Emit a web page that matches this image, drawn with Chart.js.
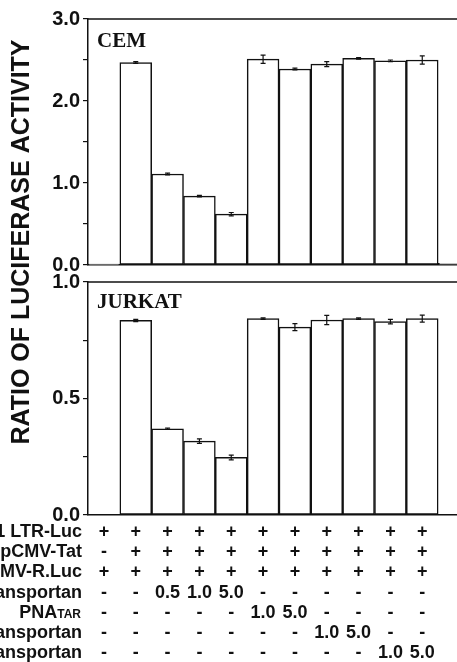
<!DOCTYPE html>
<html>
<head>
<meta charset="utf-8">
<script src="https://cdn.jsdelivr.net/npm/chart.js@4.4.1/dist/chart.umd.min.js"></script>
<style>
  html, body { margin: 0; padding: 0; background: #fff; overflow: hidden; }
  #wrap { position: relative; width: 457px; height: 662px; overflow: hidden; }
  canvas { position: absolute; left: 0; top: 0; }
</style>
</head>
<body>
<div id="wrap">
  <canvas id="jurkat" width="470" height="662" style="width:470px;height:662px"></canvas>
  <canvas id="cem" width="470" height="280" style="width:470px;height:280px"></canvas>
</div>
<script>
// conditions 1..11 plus the cut-off slot on the right
const categories = ['1', '2', '3', '4', '5', '6', '7', '8', '9', '10', '11', ''];

const cemValues = [0.01, 2.47, 1.11, 0.84, 0.62, 2.51, 2.39, 2.45, 2.52, 2.49, 2.50, 0.02];
const cemErrors = [0, 0.01, 0.01, 0.01, 0.02, 0.05, 0.01, 0.03, 0.01, 0.01, 0.05, 0];

const jurkatValues = [0, 0.835, 0.37, 0.317, 0.247, 0.843, 0.806, 0.837, 0.843, 0.83, 0.843, 0];
const jurkatErrors = [0, 0.005, 0.003, 0.01, 0.01, 0.003, 0.015, 0.02, 0.003, 0.01, 0.015, 0];

const yTitle = 'RATIO OF LUCIFERASE ACTIVITY';

// table under the chart
const rowLabels = ['HIV-1 LTR-Luc', 'pCMV-Tat', 'pCMV-R.Luc', 'Transportan', 'PNA', 'PNATAR-Transportan', 'PNATAR-S-S-Transportan'];
const rowLabelSmall = ['', '', '', '', 'TAR', '', ''];
const rowLTR   = ['+', '+', '+', '+', '+', '+', '+', '+', '+', '+', '+'];
const rowTat   = ['-', '+', '+', '+', '+', '+', '+', '+', '+', '+', '+'];
const rowRLuc  = ['+', '+', '+', '+', '+', '+', '+', '+', '+', '+', '+'];
const rowTransp = ['-', '-', '0.5', '1.0', '5.0', '-', '-', '-', '-', '-', '-'];
const rowPNA   = ['-', '-', '-', '-', '-', '1.0', '5.0', '-', '-', '-', '-'];
const rowConj1 = ['-', '-', '-', '-', '-', '-', '-', '1.0', '5.0', '-', '-'];
const rowConj2 = ['-', '-', '-', '-', '-', '-', '-', '-', '-', '1.0', '5.0'];
const tableRows = [rowLTR, rowTat, rowRLuc, rowTransp, rowPNA, rowConj1, rowConj2];

const INK = '#111';
const SANS = '"Liberation Sans", Arial, sans-serif';
const SERIF = '"Liberation Serif", "Times New Roman", serif';

// error bars + frame top + panel name
const panelDecor = {
  id: 'panelDecor',
  afterDatasetsDraw(chart, args, opts) {
    const ctx = chart.ctx;
    const area = chart.chartArea;
    const y = chart.scales.y;
    const meta = chart.getDatasetMeta(0);
    ctx.save();
    ctx.strokeStyle = INK;
    ctx.lineWidth = 1.2;
    opts.errors.forEach((err, i) => {
      if (!err) return;
      const v = opts.values[i];
      const x = meta.data[i].x;
      const y1 = y.getPixelForValue(v + err);
      const y2 = y.getPixelForValue(v - err);
      ctx.beginPath();
      ctx.moveTo(x, y1); ctx.lineTo(x, y2);
      ctx.moveTo(x - 2.5, y1); ctx.lineTo(x + 2.5, y1);
      ctx.moveTo(x - 2.5, y2); ctx.lineTo(x + 2.5, y2);
      ctx.stroke();
    });
    // top line of the frame
    ctx.lineWidth = 1.5;
    ctx.beginPath();
    ctx.moveTo(area.left, area.top);
    ctx.lineTo(area.right, area.top);
    ctx.stroke();
    // panel name
    ctx.fillStyle = INK;
    ctx.font = 'bold 21px ' + SERIF;
    ctx.textAlign = 'left';
    ctx.textBaseline = 'alphabetic';
    ctx.fillText(opts.name, area.left + 9, area.top + opts.nameDy);
    ctx.restore();
  }
};

// condition table and shared y title, drawn on the lower canvas
const tableDecor = {
  id: 'tableDecor',
  afterDraw(chart) {
    const ctx = chart.ctx;
    const x = chart.scales.x;
    ctx.save();
    ctx.fillStyle = INK;
    ctx.textBaseline = 'middle';
    tableRows.forEach((row, r) => {
      const ty = 532 + r * 20.2;
      ctx.textAlign = 'right';
      if (rowLabelSmall[r]) {
        ctx.font = 'bold 12px ' + SANS;
        const w = ctx.measureText(rowLabelSmall[r]).width;
        ctx.fillText(rowLabelSmall[r], 81, ty + 2);
        ctx.font = 'bold 18px ' + SANS;
        ctx.fillText(rowLabels[r], 81 - w, ty);
      } else {
        ctx.font = 'bold 18px ' + SANS;
        ctx.fillText(rowLabels[r], 82, ty);
      }
      ctx.textAlign = 'center';
      ctx.font = 'bold 18px ' + SANS;
      row.forEach((cell, i) => {
        ctx.fillText(cell, x.getPixelForValue(i), ty);
      });
    });
    // y axis title shared by both panels
    ctx.translate(22, 242);
    ctx.rotate(-Math.PI / 2);
    ctx.textAlign = 'center';
    ctx.font = 'bold 25px ' + SANS;
    ctx.fillText(yTitle, 0, 0);
    ctx.restore();
  }
};

function makePanel(id, name, values, errors, yMax, step, labelStep, padTop, padBottom, nameDy, extra) {
  return new Chart(document.getElementById(id), {
    type: 'bar',
    data: {
      labels: categories,
      datasets: [{
        data: values,
        backgroundColor: '#fff',
        borderColor: INK,
        borderWidth: 1.5,
        borderSkipped: false,
        barPercentage: 1,
        categoryPercentage: 1
      }]
    },
    options: {
      responsive: false,
      animation: false,
      layout: { padding: { top: padTop, bottom: padBottom, left: 0, right: 0 } },
      plugins: {
        legend: { display: false },
        tooltip: { enabled: false },
        panelDecor: { name: name, values: values, errors: errors, nameDy: nameDy }
      },
      scales: {
        x: {
          afterFit: s => { s.height = 0; },
          ticks: { display: false },
          grid: { display: false },
          border: { display: true, color: INK, width: 1.5 }
        },
        y: {
          min: 0,
          max: yMax,
          afterFit: s => { s.width = 88; },
          ticks: {
            stepSize: step,
            autoSkip: false,
            padding: 3,
            color: INK,
            font: { family: SANS, weight: 'bold', size: 20 },
            callback: v => Math.abs(v / labelStep - Math.round(v / labelStep)) < 1e-6 ? v.toFixed(1) : ''
          },
          grid: { drawOnChartArea: false, drawTicks: true, tickLength: 5, color: INK, lineWidth: 1.2 },
          border: { display: true, color: INK, width: 1.5 }
        }
      }
    },
    plugins: [panelDecor].concat(extra)
  });
}

makePanel('jurkat', 'JURKAT', jurkatValues, jurkatErrors, 1.0, 0.25, 0.5, 282, 147, 26, [tableDecor]);
makePanel('cem', 'CEM', cemValues, cemErrors, 3.0, 0.5, 1.0, 19, 14, 28, []);
</script>
</body>
</html>
